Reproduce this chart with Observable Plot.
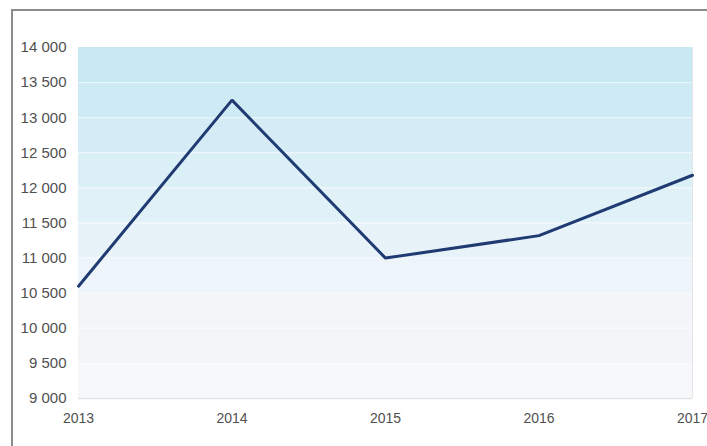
<!DOCTYPE html>
<html>
<head>
<meta charset="utf-8">
<script src="https://cdn.jsdelivr.net/npm/d3@7"></script>
<script src="https://cdn.jsdelivr.net/npm/@observablehq/plot@0.6"></script>
<style>
  html, body { margin: 0; padding: 0; background: #fff; overflow: hidden; }
  #wrap { position: relative; width: 707px; height: 446px; }
  #border { position: absolute; left: 11px; top: 9px; width: 800px; height: 500px;
            border: 2px solid #8c8c8c; pointer-events: none; }
  #chart { position: absolute; left: 0; top: 0; }
</style>
</head>
<body>
<div id="wrap"><div id="chart"></div><div id="border"></div></div>
<script>
const years = [2013, 2014, 2015, 2016, 2017];
const values = [10600, 13250, 11000, 11320, 12180];
const yTicks = [9000, 9500, 10000, 10500, 11000, 11500, 12000, 12500, 13000, 13500, 14000];

const data = years.map((year, i) => ({year, value: values[i]}));

// background bands between consecutive y ticks
const topColor = d3.color("#c8e8f4");
const midColor = d3.color("#eef5fa");
const bands = d3.pairs(yTicks).map(([lo, hi]) => {
  let fill;
  if (hi <= 10500) fill = lo < 9500 ? "#f7f8fa" : "#f3f5f8";
  else fill = d3.interpolateRgb(midColor, topColor)((hi - 11000) / 3000);
  return {lo, hi, fill};
});

const fmt = d => d3.format(",")(d).replace(/,/g, " ");

const chart = Plot.plot({
  width: 707,
  height: 446,
  marginLeft: 78,
  marginRight: 15,
  marginTop: 47,
  marginBottom: 48,
  style: {fontFamily: "'Liberation Sans', Arial, sans-serif", color: "#505050", background: "transparent"},
  x: {domain: [2013, 2017], label: null},
  y: {domain: [9000, 14000], label: null},
  marks: [
    Plot.rect(bands, {y1: "lo", y2: "hi", fill: "fill", inset: 0}),
    Plot.ruleY(yTicks.slice(1, -1), {stroke: "#ffffff", strokeOpacity: 0.6, strokeWidth: 1}),
    Plot.ruleY([9000], {stroke: "#e2e4e8", strokeWidth: 1.5}),
    Plot.ruleX([2017], {stroke: "#e4e6ea", strokeWidth: 1}),
    Plot.axisX({ticks: years, tickFormat: "d", tickSize: 0, tickPadding: 15, fontSize: 14, label: null}),
    Plot.axisY({ticks: yTicks, tickFormat: fmt, tickSize: 0, tickPadding: 12, fontSize: 15, label: null}),
    Plot.line(data, {x: "year", y: "value", stroke: "#1f3b72", strokeWidth: 3, strokeLinejoin: "miter"})
  ]
});
document.getElementById("chart").appendChild(chart);
</script>
</body>
</html>
